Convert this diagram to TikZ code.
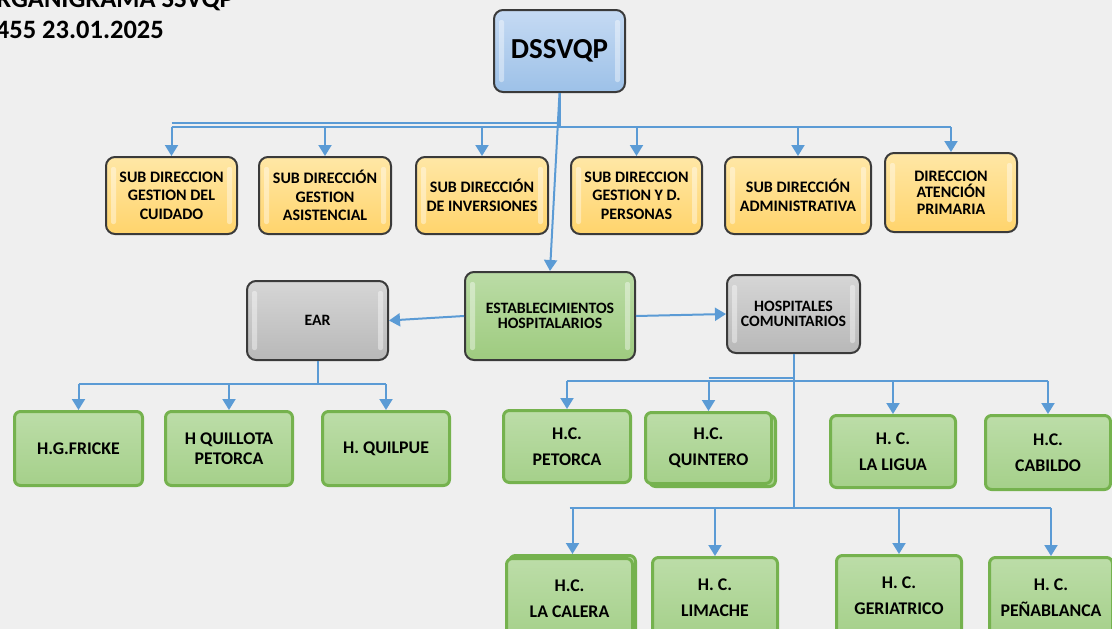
\documentclass[tikz,border=0pt]{standalone}
\usepackage{fontspec}
\setmainfont{Carlito}
\usetikzlibrary{arrows.meta,calc}
\definecolor{bg}{HTML}{EFEFEF}
\definecolor{arrc}{HTML}{5B9BD5}
\definecolor{bl1}{HTML}{C5DAF3}
\definecolor{bl2}{HTML}{9DC1E8}
\definecolor{yl1}{HTML}{FFE7A6}
\definecolor{yl2}{HTML}{FFD46C}
\definecolor{gr1}{HTML}{D6D6D6}
\definecolor{gr2}{HTML}{B8B8B8}
\definecolor{eg1}{HTML}{BBDCA6}
\definecolor{eg2}{HTML}{9ECB7F}
\definecolor{gl1}{HTML}{BCDDA8}
\definecolor{gl2}{HTML}{A5D08A}
\definecolor{gbd}{HTML}{75B24E}
\definecolor{dbd}{HTML}{3A3A3A}
\begin{document}
\begin{tikzpicture}[x=1pt,y=-1pt,
  conn/.style={draw=arrc,line width=2pt},
  arr/.style={conn,-{Triangle[width=13pt,length=11pt]}},
  gloss/.style={path picture={
    \fill[white,opacity=.4,rounded corners=2pt]
      ([xshift=5pt,yshift=-10pt]path picture bounding box.north west) rectangle
      ([xshift=10pt,yshift=10pt]path picture bounding box.south west);
    \fill[white,opacity=.4,rounded corners=2pt]
      ([xshift=-5pt,yshift=-10pt]path picture bounding box.north east) rectangle
      ([xshift=-10pt,yshift=10pt]path picture bounding box.south east);
  }},
  darkbox/.style={rectangle,rounded corners=9pt,draw=dbd,line width=2pt,gloss,
    align=center,anchor=north west,inner sep=2pt,text=black,
    font=\bfseries\fontsize{16}{18.5}\selectfont},
  topbox/.style={darkbox,top color=bl1,bottom color=bl2,
    font=\bfseries\fontsize{29}{32}\selectfont},
  ybox/.style={darkbox,top color=yl1,bottom color=yl2},
  graybox/.style={darkbox,top color=gr1,bottom color=gr2,
    font=\bfseries\fontsize{15.8}{15.5}\selectfont},
  estbox/.style={darkbox,top color=eg1,bottom color=eg2,
    font=\bfseries\fontsize{15.8}{15.5}\selectfont},
  gbox/.style={rectangle,rounded corners=6pt,draw=gbd,line width=3pt,
    top color=gl1,bottom color=gl2,align=center,anchor=north west,inner sep=2pt,
    text=black,font=\bfseries\fontsize{17.8}{26}\selectfont},
  title/.style={anchor=base east,inner sep=0pt,font=\bfseries\fontsize{26.5}{30}\selectfont}
]
\useasboundingbox (0,0) rectangle (1112,629);
\clip (0,0) rectangle (1112,629);
\fill[bg] (0,0) rectangle (1112,629);

% title (cut by the page edge, as in the reference)
\node[title] (t1) at (234,7) {ORGANIGRAMA SSVQP};
\node[title] (t2) at (164,38) {455 23.01.2025};

% top
\node[topbox,minimum width=131pt,minimum height=82pt] (top) at (493,9) {DSSVQP};

% sub-directions
\node[ybox,minimum width=131pt,minimum height=77pt] (s1) at (105,156) {SUB DIRECCION\\GESTION DEL\\CUIDADO};
\node[ybox,minimum width=132pt,minimum height=77pt] (s2) at (258,156) {SUB DIRECCIÓN\\GESTION\\ASISTENCIAL};
\node[ybox,minimum width=132pt,minimum height=77pt] (s3) at (415,156) {SUB DIRECCIÓN\\DE INVERSIONES};
\node[ybox,minimum width=131pt,minimum height=77pt] (s4) at (570,156) {SUB DIRECCION\\GESTION Y D.\\PERSONAS};
\node[ybox,minimum width=146pt,minimum height=77pt] (s5) at (724,156) {SUB DIRECCIÓN\\ADMINISTRATIVA};
\node[ybox,minimum width=132pt,minimum height=79pt,font=\bfseries\fontsize{16}{16.5}\selectfont] (s6) at (884,152) {DIRECCION\\ATENCIÓN\\PRIMARIA};

% second level
\node[estbox,minimum width=170pt,minimum height=88pt] (est) at (464,271) {ESTABLECIMIENTOS\\HOSPITALARIOS};
\node[graybox,minimum width=141pt,minimum height=79pt] (ear) at (246,280) {EAR};
\node[graybox,minimum width=133pt,minimum height=78pt] (hc) at (726,274) {HOSPITALES\\COMUNITARIOS};

% hospitals under EAR
\node[gbox,minimum width=128pt,minimum height=74pt] (fricke) at (13,410) {H.G.FRICKE};
\node[gbox,minimum width=127pt,minimum height=74pt,font=\bfseries\fontsize{17.8}{20}\selectfont] (quillota) at (164,410) {H QUILLOTA\\PETORCA};
\node[gbox,minimum width=127pt,minimum height=74pt] (quilpue) at (321,410) {H. QUILPUE};

% community hospitals row 1
\node[gbox,minimum width=127pt,minimum height=72pt] (petorca) at (502,409) {H.C.\\PETORCA};
\node[gbox,minimum width=126pt,minimum height=71pt] (quinteroB) at (648,414) {};
\node[gbox,minimum width=126pt,minimum height=71pt] (quintero) at (644,411) {H.C.\\QUINTERO};
\node[gbox,minimum width=125pt,minimum height=72pt] (laligua) at (829,414) {H. C.\\LA LIGUA};
\node[gbox,minimum width=125pt,minimum height=74pt] (cabildo) at (984,414) {H.C.\\CABILDO};

% community hospitals row 2
\node[gbox,minimum width=126pt,minimum height=80pt] (caleraB) at (508,554) {};
\node[gbox,minimum width=126pt,minimum height=80pt] (calera) at (505,557) {H.C.\\LA CALERA};
\node[gbox,minimum width=125pt,minimum height=80pt] (limache) at (651,556) {H. C.\\LIMACHE};
\node[gbox,minimum width=125pt,minimum height=80pt] (geri) at (835,554) {H. C.\\GERIATRICO};
\node[gbox,minimum width=123pt,minimum height=80pt] (pena) at (988,556) {H. C.\\PEÑABLANCA};

% connectors: top level
\coordinate (bus) at (0,127);
\coordinate (bus2) at (0,123);
\draw[conn] (top.south) -- (top.south |- bus);
\draw[conn] (s1.north |- bus) -- (s6.north |- bus);
\draw[conn,line width=1.5pt] (s1.north |- bus2) -- (top.south |- bus2);
\foreach \s in {s1,s2,s3,s4,s5,s6}
  \draw[arr] (\s.north |- bus) -- (\s.north);
\draw[arr] (top.south) -- (est.north);

% second level
\draw[arr] (est.west) -- (ear.east);
\draw[arr] (est.east) -- (hc.west);

% EAR branch
\coordinate (ebus) at (0,384);
\draw[conn] (ear.south) -- (ear.south |- ebus);
\draw[conn] (fricke.north |- ebus) -- (quilpue.north |- ebus);
\foreach \s in {fricke,quillota,quilpue}
  \draw[arr] (\s.north |- ebus) -- (\s.north);

% HC branch
\coordinate (hbus) at (0,381);
\coordinate (hbus2) at (0,378);
\coordinate (lbus) at (0,508);
\draw[conn] (hc.south) -- (hc.south |- lbus);
\draw[conn] (petorca.north |- hbus) -- (cabildo.north |- hbus);
\draw[conn,line width=1.5pt] (quintero.north |- hbus2) -- (hc.south |- hbus2);
\foreach \s in {petorca,quintero,laligua,cabildo}
  \draw[arr] (\s.north |- hbus) -- (\s.north);
\draw[conn] (calera.north |- lbus) -- (pena.north |- lbus);
\foreach \s in {caleraB,limache,geri,pena}
  \draw[arr] (\s.north |- lbus) -- (\s.north);
\end{tikzpicture}
\end{document}
